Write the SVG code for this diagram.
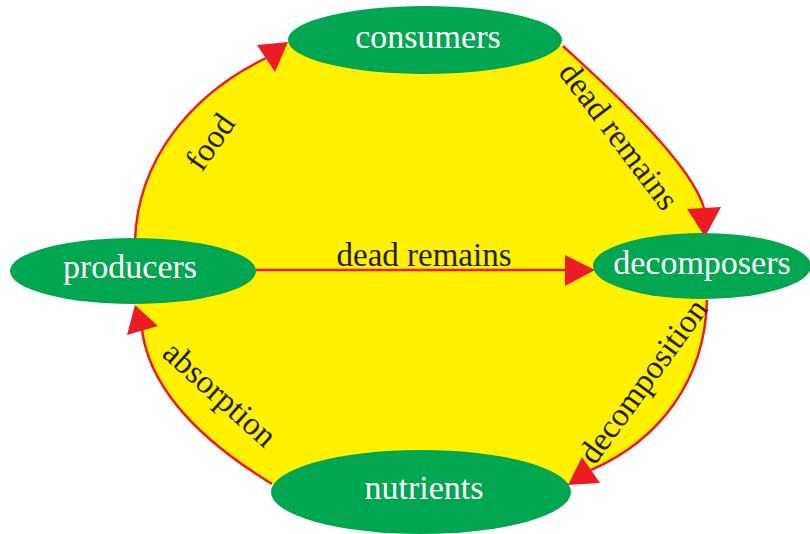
<svg xmlns="http://www.w3.org/2000/svg" width="810" height="534" viewBox="0 0 810 534">
<style>
.node{fill:#00A650}
.nl{font-family:"Liberation Serif","Times New Roman",serif;font-size:34px;fill:#ffffff;text-anchor:middle}
.el{font-family:"Liberation Serif","Times New Roman",serif;font-size:33px;fill:#231F20;text-anchor:middle}
.arc{fill:none;stroke:#ED1C24;stroke-width:2.5}
.head{fill:#ED1C24}
</style>
<rect width="810" height="534" fill="#ffffff"/>
<path id="fill" fill="#FFF100" d="M135,240 C138,160 190,95 266,58 L288,42 L563,46 C600,80 690,160 704,208 L705,237 L707,300 C705,380 660,440 591,470 L568,485 L272,484 C200,440 150,390 142,330 L135,305 Z"/>
<g id="connectors">
<path class="arc" d="M135,240 C138,160 190,95 266,58"/>
<polygon class="head" points="288,42 257,45 275,72"/>
<path class="arc" d="M563,46 C600,80 690,160 704,208"/>
<polygon class="head" points="705,237 687,209 721,207"/>
<path class="arc" d="M256,270 H567"/>
<polygon class="head" points="595,270 565,255 565,286"/>
<path class="arc" d="M707,300 C705,380 660,440 591,470"/>
<polygon class="head" points="568,485 600,483 582,457"/>
<path class="arc" d="M272,484 C200,440 150,390 142,330"/>
<polygon class="head" points="135,305 127,335 158,326"/>
<text class="el" transform="translate(210,142) rotate(-55)" y="11">food</text>
<text class="el" transform="translate(619,136) rotate(53)" y="11">dead remains</text>
<text class="el" x="424" y="266">dead remains</text>
<text class="el" transform="translate(643,381) rotate(-54)" y="11">decomposition</text>
<text class="el" transform="translate(220,394) rotate(42)" y="11">absorption</text>
</g>
<g id="consumers"><ellipse class="node" cx="425" cy="40" rx="137" ry="34"/><text class="nl" x="428" y="48">consumers</text></g>
<g id="producers"><ellipse class="node" cx="133" cy="271" rx="123" ry="33"/><text class="nl" x="130" y="278">producers</text></g>
<g id="decomposers"><ellipse class="node" cx="702" cy="266" rx="109" ry="33"/><text class="nl" x="702" y="274">decomposers</text></g>
<g id="nutrients"><ellipse class="node" cx="421" cy="492" rx="150" ry="42"/><text class="nl" x="424" y="499">nutrients</text></g>
</svg>
